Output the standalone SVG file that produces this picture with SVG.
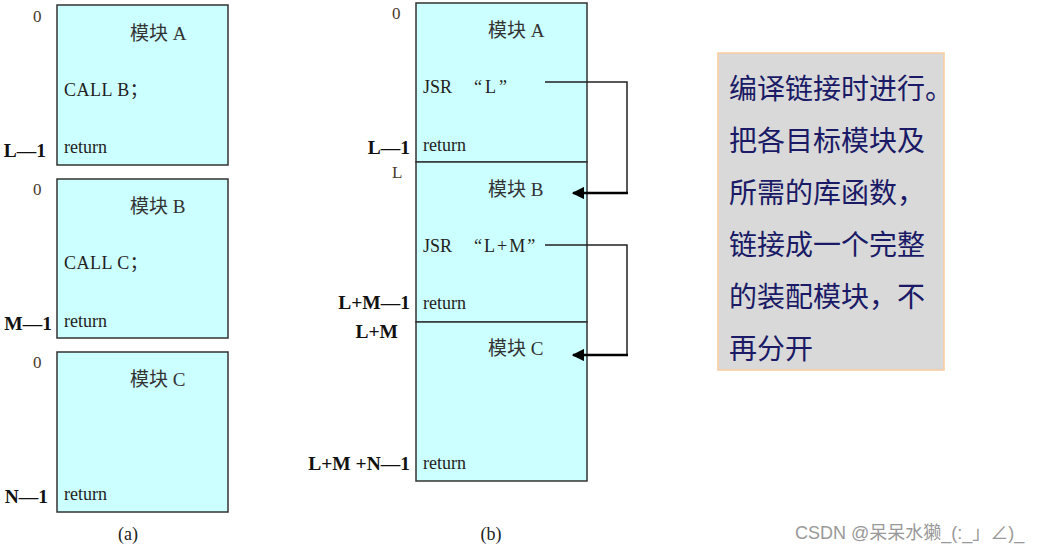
<svg xmlns="http://www.w3.org/2000/svg" width="1047" height="552" viewBox="0 0 1047 552">
<style>
.box{fill:#ccffff;stroke:#333;stroke-width:1.5}
.t{font-family:"Liberation Serif","Noto Sans CJK SC",serif;font-size:18px;fill:#222}
.h{font-family:"Liberation Serif","Noto Sans CJK SC",serif;font-size:19px;fill:#333}
.z{font-family:"Liberation Serif",serif;font-size:17px;fill:#4a3a2a}
.b{font-family:"Liberation Serif",serif;font-size:19.5px;font-weight:bold;fill:#111;text-anchor:end}
.cap{font-family:"Liberation Serif",serif;font-size:18px;fill:#222;text-anchor:middle}
.note{font-family:"Noto Sans CJK SC",sans-serif;font-size:28px;fill:#1a1a66}
.thin{fill:none;stroke:#222;stroke-width:1.5}
.thick{fill:none;stroke:#000;stroke-width:2.5}
</style>
<defs>
<marker id="ah" viewBox="0 0 10 10" refX="9" refY="5" markerWidth="5" markerHeight="5" markerUnits="strokeWidth" orient="auto">
<path d="M0,0 L10,5 L0,10 z" fill="#000"/>
</marker>
</defs>
<rect width="1047" height="552" fill="#fff"/>

<g id="a-moduleA">
<rect class="box" x="57" y="5" width="171" height="160"/>
<text class="z" x="33" y="22">0</text>
<text class="h" x="130" y="40">模块 A</text>
<text class="t" x="64" y="96" letter-spacing="0.5">CALL B；</text>
<text class="t" x="64" y="153">return</text>
<text class="b" x="46" y="157">L—1</text>
</g>
<g id="a-moduleB">
<rect class="box" x="57" y="179" width="171" height="159"/>
<text class="z" x="33" y="195">0</text>
<text class="h" x="130" y="213">模块 B</text>
<text class="t" x="64" y="269" letter-spacing="0.5">CALL C；</text>
<text class="t" x="64" y="327">return</text>
<text class="b" x="52" y="330">M—1</text>
</g>
<g id="a-moduleC">
<rect class="box" x="57" y="352" width="171" height="160"/>
<text class="z" x="33" y="368">0</text>
<text class="h" x="130" y="386">模块 C</text>
<text class="t" x="64" y="500">return</text>
<text class="b" x="48" y="503">N—1</text>
</g>
<text class="cap" x="128" y="540">(a)</text>

<g id="b-moduleA">
<rect class="box" x="416" y="3" width="171" height="159"/>
<text class="z" x="392" y="19">0</text>
<text class="h" x="488" y="37">模块 A</text>
<text class="t" x="423" y="93">JSR<tspan x="474" letter-spacing="3">“L”</tspan></text>
<text class="t" x="423" y="151">return</text>
<text class="b" x="410" y="154">L—1</text>
</g>
<g id="b-moduleB">
<rect class="box" x="416" y="162" width="171" height="160"/>
<text class="z" x="392" y="178">L</text>
<text class="h" x="488" y="196">模块 B</text>
<text class="t" x="423" y="252">JSR<tspan x="474" letter-spacing="2">“L+M”</tspan></text>
<text class="t" x="423" y="309">return</text>
<text class="b" x="410" y="309">L+M—1</text>
</g>
<g id="b-moduleC">
<rect class="box" x="416" y="322" width="171" height="159"/>
<text class="b" x="398" y="338">L+M</text>
<text class="h" x="488" y="355">模块 C</text>
<text class="t" x="423" y="469">return</text>
<text class="b" x="410" y="470">L+M +N—1</text>
</g>
<text class="cap" x="491" y="540">(b)</text>

<g id="connectors">
<path class="thin" d="M545,82 H627 V193"/>
<path class="thick" d="M628,193 H573" marker-end="url(#ah)"/>
<path class="thin" d="M545,245 H627 V355"/>
<path class="thick" d="M628,355 H573" marker-end="url(#ah)"/>
</g>

<g id="note">
<rect x="718" y="53" width="226" height="317" fill="#d9d9d9" stroke="#f9cb9c" stroke-width="1.5"/>
<text class="note" x="729" y="99">编译链接时进行。</text>
<text class="note" x="729" y="151">把各目标模块及</text>
<text class="note" x="729" y="203">所需的库函数，</text>
<text class="note" x="729" y="255">链接成一个完整</text>
<text class="note" x="729" y="307">的装配模块，不</text>
<text class="note" x="729" y="359">再分开</text>
</g>

<text x="795" y="539" font-family="'Liberation Sans','Noto Sans CJK SC',sans-serif" font-size="18" fill="#999">CSDN @呆呆水獭_(:_」∠)_</text>
</svg>
